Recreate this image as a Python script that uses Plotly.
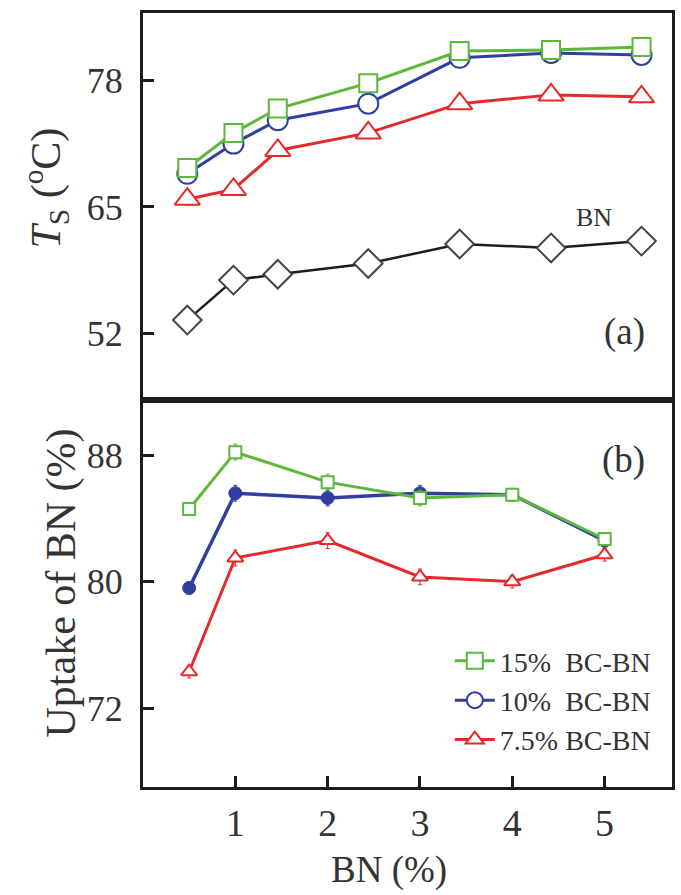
import plotly.graph_objects as go

# ---------------- data ----------------
x_top = [0.48, 0.98, 1.46, 2.44, 3.43, 4.42, 5.40]
ts_15 = [69.0, 72.6, 75.1, 77.7, 81.0, 81.1, 81.4]
ts_10 = [68.4, 71.5, 73.9, 75.6, 80.3, 80.8, 80.6]
ts_75 = [65.8, 66.8, 70.8, 72.6, 75.6, 76.5, 76.3]
ts_bn = [53.4, 57.5, 58.1, 59.2, 61.2, 60.8, 61.5]
ts_err = [0.6, 0.6, 0.6, 0.6, 0.6, 0.6, 0.6]

x_bot = [0.5, 1, 2, 3, 4, 5]
up_15 = [84.6, 88.2, 86.3, 85.3, 85.5, 82.7]
up_10 = [79.6, 85.6, 85.3, 85.6, 85.5, 82.6]
up_75 = [74.3, 81.5, 82.6, 80.3, 80.0, 81.7]
up_err = [0.4, 0.5, 0.5, 0.5, 0.4, 0.4]

series_names = ["15%  BC-BN", "10%  BC-BN", "7.5% BC-BN"]
x_ticks = [1, 2, 3, 4, 5]
top_ticks = [52, 65, 78]
bot_ticks = [72, 80, 88]

# ---------------- styles ----------------
GREEN = "#5cb83a"
BLUE = "#2f3f9f"
RED = "#e42a2a"
BLACK = "#1c1c1c"
TXT = "#333333"
FONT = "Liberation Serif, Times New Roman, serif"

fig = go.Figure()

def err(vals, color):
    return dict(type="data", array=vals, visible=True, color=color, thickness=1, width=2)

# ---- top panel (a) ----
fig.add_trace(go.Scatter(x=x_top, y=ts_bn, mode="lines+markers", showlegend=False,
    line=dict(color=BLACK, width=2.5), error_y=err(ts_err, "#555"),
    marker=dict(symbol="diamond", size=22, color="white", line=dict(color="#444", width=2)),
    xaxis="x", yaxis="y"))
fig.add_trace(go.Scatter(x=x_top, y=ts_75, mode="lines+markers", name=series_names[2], legendrank=3,
    line=dict(color=RED, width=3), error_y=err(ts_err, RED),
    marker=dict(symbol="triangle-up", size=22, color="white", line=dict(color=RED, width=2)),
    xaxis="x", yaxis="y"))
fig.add_trace(go.Scatter(x=x_top, y=ts_10, mode="lines+markers", name=series_names[1], legendrank=2,
    line=dict(color=BLUE, width=3), error_y=err(ts_err, BLUE),
    marker=dict(symbol="circle", size=20, color="white", line=dict(color=BLUE, width=2)),
    xaxis="x", yaxis="y"))
fig.add_trace(go.Scatter(x=x_top, y=ts_15, mode="lines+markers", name=series_names[0], legendrank=1,
    line=dict(color=GREEN, width=3), error_y=err(ts_err, GREEN),
    marker=dict(symbol="square", size=18, color="white", line=dict(color=GREEN, width=2)),
    xaxis="x", yaxis="y"))

# ---- bottom panel (b) ----
fig.add_trace(go.Scatter(x=x_bot, y=up_75, mode="lines+markers", showlegend=False,
    line=dict(color=RED, width=3), error_y=err(up_err, RED),
    marker=dict(symbol="triangle-up", size=14, color="white", line=dict(color=RED, width=2)),
    xaxis="x2", yaxis="y2"))
fig.add_trace(go.Scatter(x=x_bot, y=up_10, mode="lines+markers", showlegend=False,
    line=dict(color=BLUE, width=3.5), error_y=err(up_err, BLUE),
    marker=dict(symbol="circle", size=13, color=BLUE, line=dict(color=BLUE, width=1)),
    xaxis="x2", yaxis="y2"))
fig.add_trace(go.Scatter(x=x_bot, y=up_15, mode="lines+markers", showlegend=False,
    line=dict(color=GREEN, width=3), error_y=err(up_err, GREEN),
    marker=dict(symbol="square", size=12, color="white", line=dict(color=GREEN, width=2)),
    xaxis="x2", yaxis="y2"))

axis_common = dict(showline=True, linecolor=BLACK, linewidth=3, mirror=True,
                   showgrid=False, zeroline=False)

fig.update_layout(
    width=681, height=895,
    margin=dict(l=143, r=6, t=13, b=108),
    paper_bgcolor="white", plot_bgcolor="white",
    font=dict(family=FONT, color=TXT),
    xaxis=dict(domain=[0, 1], range=[0, 5.73], anchor="y", showticklabels=False,
               ticks="", **axis_common),
    yaxis=dict(domain=[0.5, 1], range=[45.2, 84.9], anchor="x", tickmode="array",
               tickvals=top_ticks, ticks="inside", ticklen=11, tickwidth=2.5, tickcolor=BLACK,
               tickfont=dict(size=36, family=FONT, color=TXT), ticklabelstandoff=10,
               **axis_common),
    xaxis2=dict(domain=[0, 1], range=[0, 5.73], anchor="y2", tickmode="array",
                tickvals=x_ticks, ticks="inside", ticklen=11, tickwidth=2.5, tickcolor=BLACK,
                tickfont=dict(size=38, family=FONT, color=TXT), ticklabelstandoff=0,
                **axis_common),
    yaxis2=dict(domain=[0, 0.5], range=[67, 91.5], anchor="x2", tickmode="array",
                tickvals=bot_ticks, ticks="inside", ticklen=11, tickwidth=2.5, tickcolor=BLACK,
                tickfont=dict(size=36, family=FONT, color=TXT), ticklabelstandoff=10,
                **axis_common),
    legend=dict(x=0.58, y=0.195, xanchor="left", yanchor="top",
                bgcolor="rgba(0,0,0,0)", font=dict(size=28, family=FONT, color=TXT),
                itemwidth=40, tracegroupgap=0),
    annotations=[
        dict(text="BN", x=4.89, y=63.9, xref="x", yref="y", showarrow=False,
             xanchor="center", yanchor="middle",
             font=dict(size=26, family=FONT, color=TXT)),
        dict(text="(a)", x=5.22, y=52.2, xref="x", yref="y", showarrow=False,
             xanchor="center", yanchor="middle",
             font=dict(size=37, family=FONT, color=TXT)),
        dict(text="(b)", x=5.20, y=87.7, xref="x2", yref="y2", showarrow=False,
             xanchor="center", yanchor="middle",
             font=dict(size=37, family=FONT, color=TXT)),
        dict(text="<i>T</i><sub>S</sub> (<sup>o</sup>C)", x=-0.184, y=0.774, xref="paper", yref="paper",
             xanchor="center", yanchor="middle",
             textangle=-90, showarrow=False, font=dict(size=42, family=FONT, color=TXT)),
        dict(text="Uptake of BN (%)", x=-0.154, y=0.2636, xref="paper", yref="paper",
             xanchor="center", yanchor="middle",
             textangle=-90, showarrow=False, font=dict(size=42, family=FONT, color=TXT)),
        dict(text="BN (%)", x=0.465, y=-0.107, xref="paper", yref="paper",
             xanchor="center", yanchor="middle",
             showarrow=False, font=dict(size=37, family=FONT, color=TXT)),
    ],
)

fig.write_html("out.html")
